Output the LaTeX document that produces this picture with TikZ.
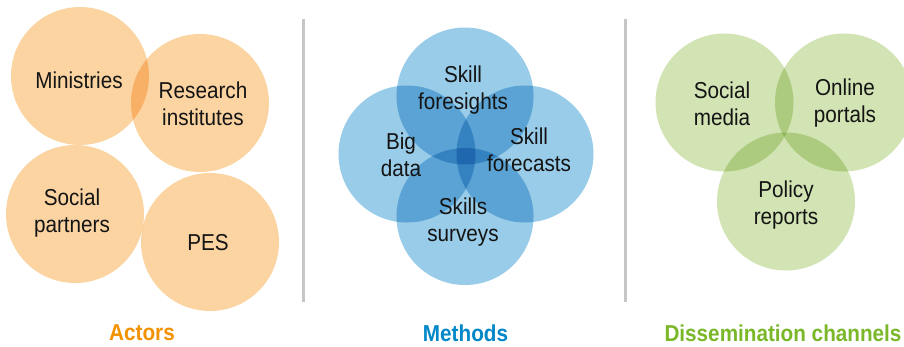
\documentclass[tikz,border=0pt]{standalone}
\usepackage{fontspec}
\setmainfont{Liberation Sans}[FakeStretch=0.9]
\definecolor{orangefill}{RGB}{251,212,162}
\definecolor{bluefill}{RGB}{152,204,233}
\definecolor{greenfill}{RGB}{210,228,180}
\definecolor{orangetitle}{RGB}{243,146,0}
\definecolor{bluetitle}{RGB}{0,135,200}
\definecolor{greentitle}{RGB}{122,184,42}
\definecolor{sepgray}{RGB}{198,198,198}
\definecolor{textblack}{RGB}{20,20,20}
\begin{document}
\begin{tikzpicture}[x=1pt,y=-1pt,
  lbl/.style={font=\fontsize{23}{27}\selectfont, align=center, text=textblack, inner sep=0pt},
  ttl/.style={font=\fontsize{23}{27}\selectfont\bfseries, inner sep=0pt},
  sepline/.style={draw=sepgray, line width=2.7pt},
  orb/.style={fill=#1, blend mode=multiply}]
\useasboundingbox (0,0) rectangle (904,346);
\clip (0,0) rectangle (904,346);
\fill[white] (0,0) rectangle (904,346);

% separators
\draw[sepline] (303.5,18.5) -- (303.5,301.5);
\draw[sepline] (625.5,18.5) -- (625.5,301.5);

% Actors
\fill[orb=orangefill] (80,76) circle (69);
\fill[orb=orangefill] (200,103) circle (69);
\fill[orb=orangefill] (75,214) circle (69);
\fill[orb=orangefill] (210,242) circle (69);
\node[lbl] (ministries) at (79,80) {Ministries};
\node[lbl] (research) at (203,103.5) {Research\\institutes};
\node[lbl] (social) at (72,213.5) {Social\\partners};
\node[lbl] (pes) at (208,243) {PES};
\node[ttl, text=orangetitle] (actors) at (142,333) {Actors};

% Methods
\fill[orb=bluefill] (465,96) circle (68.5);
\fill[orb=bluefill] (407,154) circle (68.5);
\fill[orb=bluefill] (525,154) circle (68.5);
\fill[orb=bluefill] (465,216.5) circle (68.5);
\node[lbl] (foresights) at (463,90.5) {Skill\\foresights};
\node[lbl] (bigdata) at (401,155) {Big\\data};
\node[lbl] (forecasts) at (529,150) {Skill\\forecasts};
\node[lbl] (surveys) at (463,222.5) {Skills\\surveys};
\node[ttl, text=bluetitle] (methods) at (465.5,333) {Methods};

% Dissemination channels
\fill[orb=greenfill] (724.5,102.5) circle (69);
\fill[orb=greenfill] (844,102.5) circle (69);
\fill[orb=greenfill] (786,201.5) circle (69);
\node[lbl] (socialmedia) at (722,103.5) {Social\\media};
\node[lbl] (portals) at (845,103.5) {Online\\portals};
\node[lbl] (policy) at (786,205) {Policy\\reports};
\node[ttl, text=greentitle] (dissemination) at (783,333) {Dissemination channels};
\end{tikzpicture}
\end{document}
